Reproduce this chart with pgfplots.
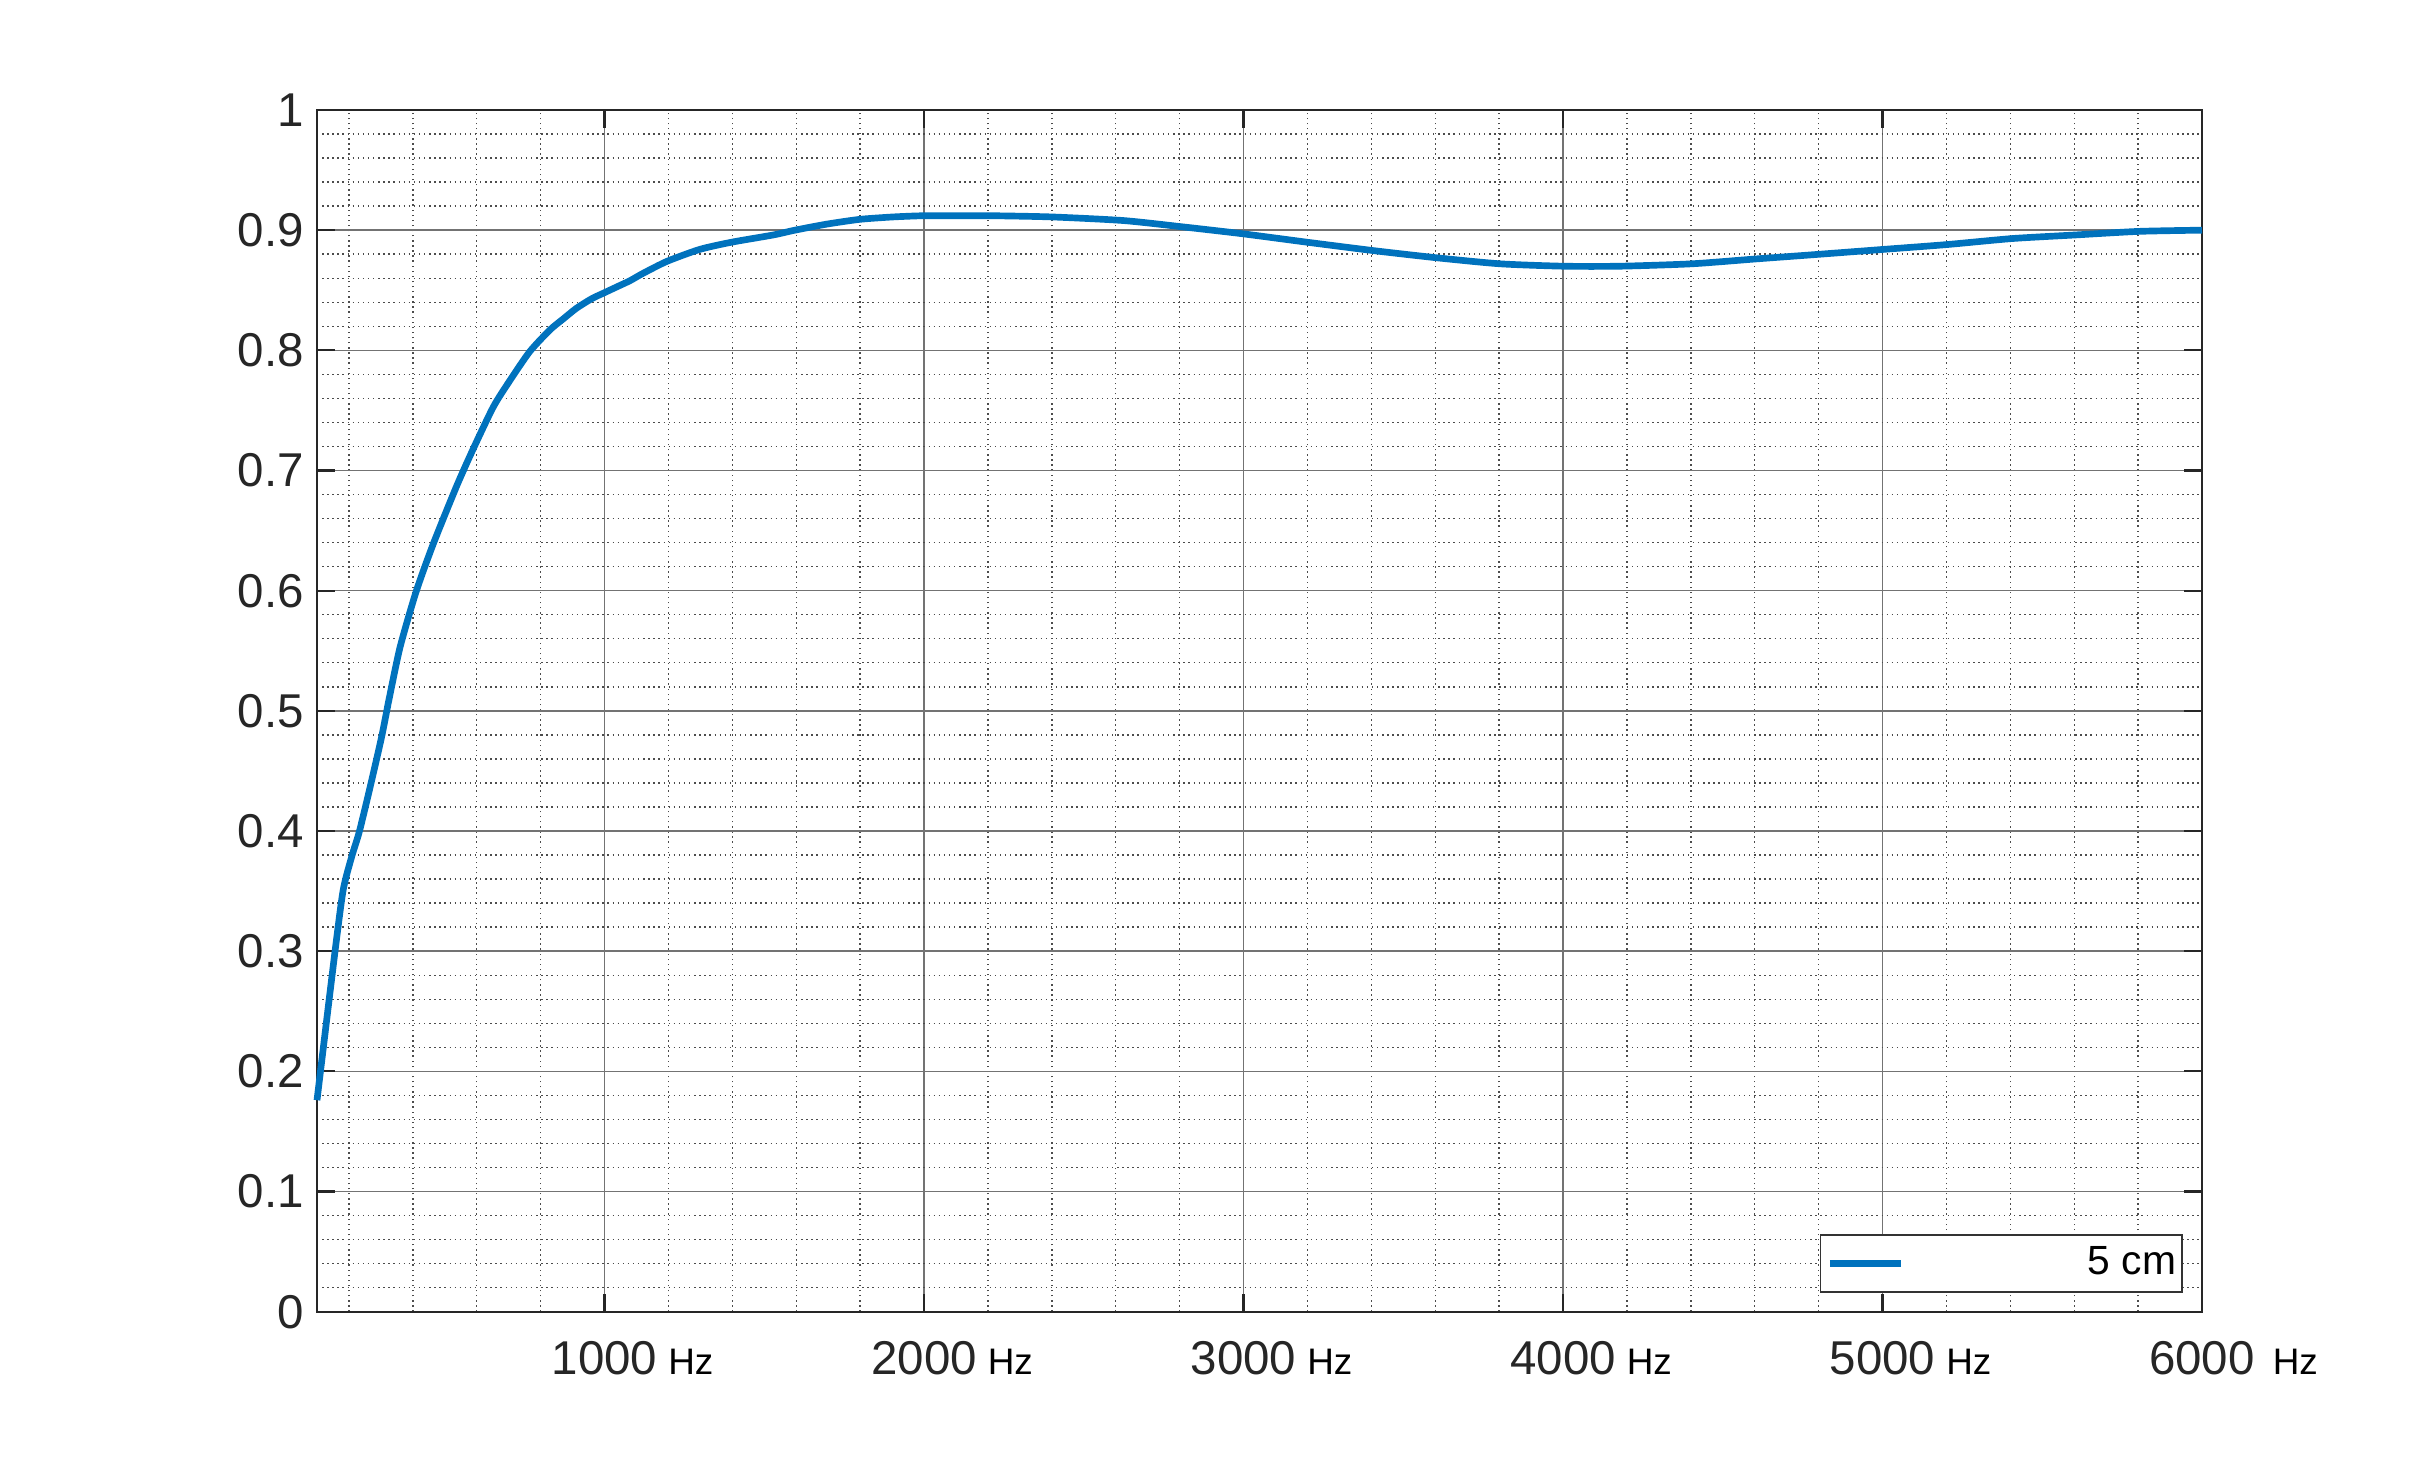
\documentclass[border=0pt]{standalone}
\usepackage{pgfplots}
\pgfplotsset{compat=1.18}
\usepackage{fontspec}
\setmainfont{Liberation Sans}
\definecolor{mblue}{RGB}{0,114,189}
\newcommand{\hz}{{\fontsize{10.5}{12}\selectfont\color{black}Hz}}
\newcommand{\xl}[2][0.11cm]{\hphantom{\hspace{#1}\hz}#2\hspace{#1}\hz}
\begin{document}
\begin{tikzpicture}
\path[use as bounding box, fill=white] (0,0) rectangle (24.34cm,14.75cm);
\begin{axis}[
  at={(3.17cm,1.633cm)}, anchor=south west,
  scale only axis, width=18.85cm, height=12.017cm,
  xmin=100, xmax=6000, ymin=0, ymax=1,
  clip=false,
  xtick={1000,2000,3000,4000,5000,6000},
  xticklabels={\xl{1000},\xl{2000},\xl{3000},\xl{4000},\xl{5000},\xl[0.18cm]{6000}},
  minor xtick={200,400,600,800,1200,1400,1600,1800,2200,2400,2600,2800,3200,3400,3600,3800,4200,4400,4600,4800,5200,5400,5600,5800},
  ytick={0,0.1,0.2,0.3,0.4,0.5,0.6,0.7,0.8,0.9,1},
  yticklabels={0,0.1,0.2,0.3,0.4,0.5,0.6,0.7,0.8,0.9,1},
  minor ytick={0.02,0.04,0.06,0.08,0.12,0.14,0.16,0.18,0.22,0.24,0.26,0.28,0.32,0.34,0.36,0.38,0.42,0.44,0.46,0.48,0.52,0.54,0.56,0.58,0.62,0.64,0.66,0.68,0.72,0.74,0.76,0.78,0.82,0.84,0.86,0.88,0.92,0.94,0.96,0.98},
  grid=both,
  major grid style={black!55, line width=0.45pt},
  minor grid style={black!70, line width=0.4pt, dash pattern=on 0.4pt off 1.05pt},
  tick align=inside,
  major tick length=0.18cm, minor tick length=0pt,
  tick style={black!85, line width=0.6pt},
  axis line style={black!85, line width=0.6pt},
  ticklabel style={font=\fontsize{13.5}{16}\selectfont, text=black!85},
  xticklabel style={yshift=-0.17cm},
  yticklabel style={xshift=-0.01cm},
  legend style={at={(1,0)}, anchor=south east, xshift=-0.19cm, yshift=0.19cm,
    draw=black!80, line width=0.5pt, fill=white,
    inner xsep=0.06cm, inner ysep=0pt,
    font=\fontsize{11.6}{14}\selectfont,
    nodes={inner sep=0pt, minimum height=0.57cm},
    /tikz/every even column/.append style={column sep=0pt}},
  legend image code/.code={\draw[#1, line width=1.9pt] (0cm,0cm) -- (0.71cm,0cm);},
]
\addplot[mblue, line width=1.9pt, line join=round, smooth, tension=0.4] coordinates {
(100,0.176) (156,0.299) (182,0.351) (209,0.379) (232,0.399) (264,0.434)
(302,0.478) (325,0.509) (360,0.553) (410,0.599) (464,0.639) (537,0.687)
(589,0.718) (652,0.753) (704,0.775) (766,0.799) (829,0.817) (870,0.826)
(912,0.835) (960,0.843) (1000,0.848) (1040,0.853) (1080,0.858) (1120,0.864)
(1195,0.874) (1298,0.884) (1398,0.890) (1528,0.896) (1596,0.900) (1695,0.905)
(1799,0.909) (1903,0.911) (1997,0.912) (2112,0.912) (2216,0.912) (2400,0.911)
(2624,0.908) (2801,0.903) (2997,0.897) (3198,0.890) (3406,0.883) (3605,0.877)
(3803,0.872) (4002,0.870) (4178,0.870) (4403,0.872) (4601,0.876) (4805,0.880)
(5003,0.884) (5201,0.888) (5405,0.893) (5603,0.896) (5804,0.899) (6000,0.900)
};
\addlegendentry{\makebox[2.72cm][r]{5 cm}\hspace{0.08cm}}
\end{axis}
\end{tikzpicture}
\end{document}
